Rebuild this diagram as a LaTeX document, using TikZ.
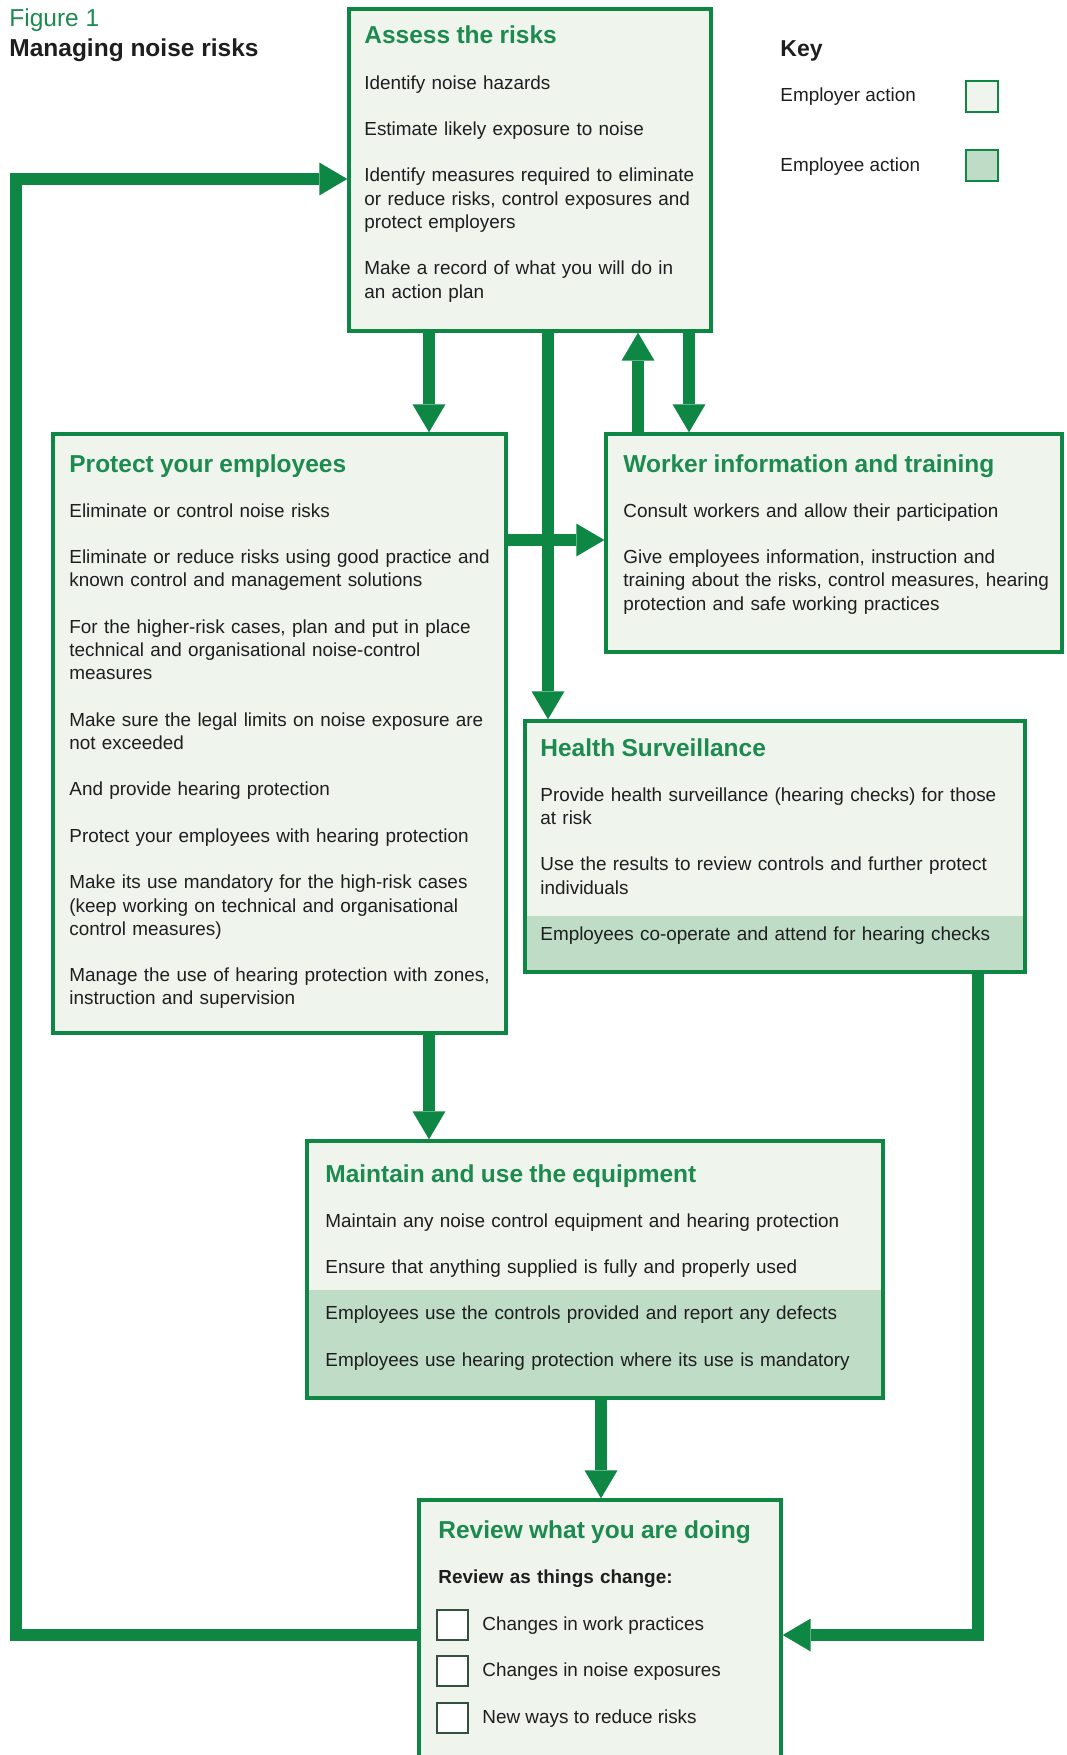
\documentclass[tikz,border=0pt]{standalone}
\usepackage{fontspec}
\setmainfont{Liberation Sans}
\usepackage{xcolor}
\definecolor{hsegreen}{HTML}{0E8744}
\definecolor{headgreen}{HTML}{1D8B4F}
\definecolor{paper}{HTML}{EFF4EC}
\definecolor{empgreen}{HTML}{BEDCC6}
\definecolor{ink}{HTML}{1E1E1E}
\definecolor{tick}{HTML}{34503F}
\usepackage{tikz}
\usetikzlibrary{arrows.meta,fit}
\newcommand{\bodyfont}{\fontsize{9.45}{11.625}\selectfont}
\newcommand{\boxhead}[1]{{\fontsize{12.25}{14}\selectfont\bfseries\color{headgreen}#1}}
\tikzset{
  >={Triangle[length=14pt,width=16.5pt,line width=0pt]},
  box/.style    ={draw=hsegreen,fill=paper,line width=1.7pt,inner sep=0pt},
  band/.style   ={fill=empgreen},
  boxtext/.style={anchor=base west,inner sep=0pt,align=left,text=ink,font=\bodyfont},
  flow/.style   ={->,draw=hsegreen,line width=6pt},
  chk/.style    ={draw=tick,fill=white,line width=1pt,minimum width=15.5pt,
                  minimum height=15pt,inner sep=0pt},
  swatch/.style ={draw=hsegreen,line width=1pt,minimum width=16pt,
                  minimum height=15.5pt,inner sep=0pt},
}

\begin{document}
\begin{tikzpicture}[x=0.5pt,y=-0.5pt]
\useasboundingbox (0,0) rectangle (1066,1755);
\clip (0,0) rectangle (1066,1755);

%================= heading and key
\node[anchor=base west,inner sep=0pt,font=\fontsize{12.25}{14}\selectfont,text=headgreen] (fig) at (9,27) {Figure 1};
\node[anchor=base west,inner sep=0pt,font=\fontsize{12.25}{14}\selectfont\bfseries,text=ink] (ttl) at (9,57) {Managing noise risks};
\node[anchor=base west,inner sep=0pt,font=\fontsize{11.5}{14}\selectfont\bfseries,text=ink] (key) at (780,57) {Key};
\node[boxtext] (emprlbl) at (780,102) {Employer action};
\node[boxtext] (empllbl) at (780,172) {Employee action};
\node[swatch,fill=paper] (emprsw) at (982,96.5) {};
\node[swatch,fill=empgreen] (emplsw) at (982,166) {};

%================= boxes (corners in px from top left)
\node[box,fit={(349,9) (711,331)}] (assess) {};
\node[box,fit={(53,434) (506,1033)}] (protect) {};
\node[box,fit={(606,434) (1062,652)}] (worker) {};
\node[box,fit={(525,721) (1025,972)}] (health) {};
\node[box,fit={(307,1141) (883,1398)}] (maintain) {};
\node[box,fit={(419,1500) (781,1775)}] (review) {};

% employee action rows
\fill[band] (526.7,916) rectangle (1023.3,970.3);
\fill[band] (308.7,1290) rectangle (881.3,1396.3);

%================= box texts
\node[boxtext,text width=173pt] (assess-txt) at (364,44)
  {\boxhead{Assess the risks}\\[10.9pt]
   Identify noise hazards\\[11.6pt]
   Estimate likely exposure to noise\\[11.6pt]
   Identify measures required to eliminate\\
   or reduce risks, control exposures and\\
   protect employers\\[11.6pt]
   Make a record of what you will do in\\
   an action plan};

\node[boxtext,text width=219pt] (protect-txt) at (69,472)
  {\boxhead{Protect your employees}\\[10.9pt]
   Eliminate or control noise risks\\[11.6pt]
   Eliminate or reduce risks using good practice and\\
   known control and management solutions\\[11.6pt]
   For the higher-risk cases, plan and put in place\\
   technical and organisational noise-control\\
   measures\\[11.6pt]
   Make sure the legal limits on noise exposure are\\
   not exceeded\\[11.6pt]
   And provide hearing protection\\[11.6pt]
   Protect your employees with hearing protection\\[11.6pt]
   Make its use mandatory for the high-risk cases\\
   (keep working on technical and organisational\\
   control measures)\\[11.6pt]
   Manage the use of hearing protection with zones,\\
   instruction and supervision};

\node[boxtext,text width=219pt] (worker-txt) at (623,472)
  {\boxhead{Worker information and training}\\[10.9pt]
   Consult workers and allow their participation\\[11.6pt]
   Give employees information, instruction and\\
   training about the risks, control measures, hearing\\
   protection and safe working practices};

\node[boxtext,text width=242pt] (health-txt) at (540,756)
  {\boxhead{Health Surveillance}\\[10.9pt]
   Provide health surveillance (hearing checks) for those\\
   at risk\\[11.6pt]
   Use the results to review controls and further protect\\
   individuals\\[11.6pt]
   Employees co-operate and attend for hearing checks};

\node[boxtext,text width=278pt] (maintain-txt) at (325,1182)
  {\boxhead{Maintain and use the equipment}\\[10.9pt]
   Maintain any noise control equipment and hearing protection\\[11.6pt]
   Ensure that anything supplied is fully and properly used\\[11.6pt]
   Employees use the controls provided and report any defects\\[11.6pt]
   Employees use hearing protection where its use is mandatory};

\node[boxtext,text width=170pt] (review-txt) at (438,1538)
  {\boxhead{Review what you are doing}\\[10.9pt]
   \textbf{Review as things change:}};

\foreach \yy/\txt [count=\i] in {1630/Changes in work practices,
                                 1676.5/Changes in noise exposures,
                                 1723/New ways to reduce risks}
 {\node[chk] (chk\i) at (452.5,\yy-5.5) {};
  \node[boxtext] (chktxt\i) at (482,\yy) {\txt};}

%================= connectors
\coordinate (xprot) at (429,0);
\coordinate (xhs)   at (548,0);
\coordinate (xup)   at (638,0);
\coordinate (xdn)   at (689,0);
\coordinate (xrev)  at (601,0);
\coordinate (xhl)   at (978,0);
\coordinate (xlp)   at (16,0);
\coordinate (ywk)   at (0,540);
\coordinate (ytop)  at (0,179);
\coordinate (ybot)  at (0,1635);

\draw[flow] (assess.south -| xprot) -- (protect.north -| xprot);
\draw[flow] (assess.south -| xhs) -- (health.north -| xhs);
\draw[flow] (worker.north -| xup) -- (assess.south -| xup);
\draw[flow] (assess.south -| xdn) -- (worker.north -| xdn);
\draw[flow] (protect.east |- ywk) -- (worker.west |- ywk);
\draw[flow] (protect.south -| xprot) -- (maintain.north -| xprot);
\draw[flow] (maintain.south -| xrev) -- (review.north -| xrev);
% results of health checks feed the review
\draw[flow] (health.south -| xhl) -- (xhl |- ybot) -- (review.east |- ybot);
% review loops back to the risk assessment
\draw[flow] (review.west |- ybot) -- (xlp |- ybot) -- (xlp |- ytop) -- (assess.west |- ytop);
\end{tikzpicture}
\end{document}
